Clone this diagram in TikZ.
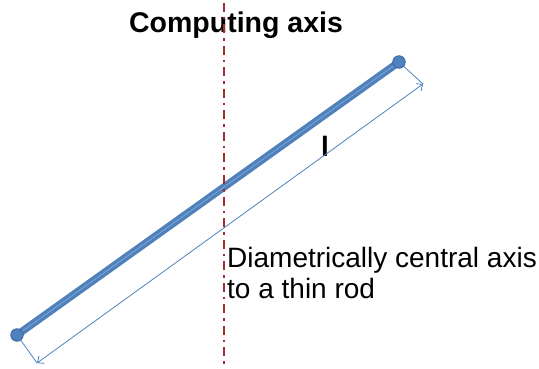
\documentclass[tikz,border=0pt]{standalone}
\usepackage{fontspec}
\setmainfont{Liberation Sans}
\usetikzlibrary{arrows.meta, calc}

\definecolor{rodblue}{RGB}{79,129,189}
\definecolor{rodedge}{RGB}{58,100,160}
\definecolor{axisred}{RGB}{165,45,45}

\begin{document}
\begin{tikzpicture}[x=1pt, y=-1pt,
    rod/.style={line width=7.5pt, rodblue},
    rodend/.style={circle, fill=rodblue, draw=rodedge, line width=0.8pt, minimum size=12.5pt, inner sep=0pt},
    dimline/.style={rodblue, line width=0.8pt},
    axisline/.style={axisred, line width=2pt, dash pattern=on 9pt off 5pt on 2.5pt off 5pt},
    lbl/.style={inner sep=0pt, font=\fontsize{28}{31}\selectfont}
  ]
  \useasboundingbox (0,0) rectangle (539,369);
  % rod ends and the length dimension
  \coordinate (rodA) at (17,335);
  \coordinate (rodB) at (399,62);
  \coordinate (dimA) at (37,363);
  \coordinate (dimB) at (423,84);
  \coordinate (axTop) at (223.5,3);
  \coordinate (axBot) at (223.5,369);

  \node[lbl, font=\fontsize{28.5}{31}\selectfont\bfseries, anchor=base] (title) at (236,33) {Computing axis};
  \node[lbl, font=\fontsize{28}{31}\selectfont\bfseries, anchor=base] (len) at (325,157) {l};
  \node[lbl, anchor=base west] (desc1) at (227,267) {Diametrically central axis};
  \node[lbl, anchor=base west] (desc2) at (227,298) {to a thin rod};

  % extension lines and dimension line
  \draw[dimline] (rodA) -- (dimA);
  \draw[dimline] (rodB) -- (dimB);
  \draw[dimline, {Straight Barb[length=5pt, width=9pt]}-{Straight Barb[length=5pt, width=9pt]}] (dimA) -- (dimB);

  % the rod
  \draw[rod] (rodA) -- (rodB);
  \draw[white, opacity=0.35, line width=0.6pt] (rodA) -- (rodB);
  \node[rodend] (endA) at (rodA) {};
  \node[rodend] (endB) at (rodB) {};

  % axis
  \draw[axisline] (axTop) -- (axBot);
\end{tikzpicture}
\end{document}
